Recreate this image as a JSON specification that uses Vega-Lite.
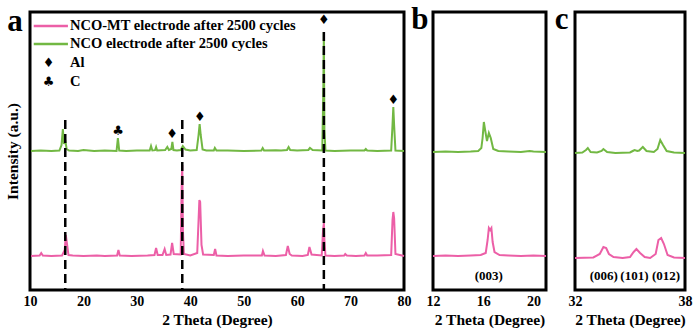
{
  "$schema": "https://vega.github.io/schema/vega-lite/v6.json",
  "background": "white",
  "padding": {"left": 3, "top": 2, "right": 14, "bottom": 4},
  "bounds": "flush",
  "spacing": 29,
  "config": {
    "font": "Liberation Serif",
    "view": {"stroke": "black", "strokeWidth": 3},
    "axis": {"labelFont": "Liberation Serif", "titleFont": "Liberation Serif", "labelFontWeight": "bold", "titleFontWeight": "bold", "labelFontSize": 14, "titleFontSize": 15.5, "labelColor": "black", "titleColor": "black", "grid": false, "ticks": false, "domain": false, "labelFlush": false, "labelPadding": 4, "titlePadding": 4},
    "text": {"font": "Liberation Serif", "fontWeight": "bold", "color": "black"}
  },
  "datasets": {
    "blank": [{}],
    "full": [
      {"s": "NCO", "x": 10.2, "y": 139}, {"s": "NCO", "x": 12, "y": 139.5}, {"s": "NCO", "x": 14, "y": 139}, {"s": "NCO", "x": 15.5, "y": 139.5}, {"s": "NCO", "x": 15.9, "y": 145}, {"s": "NCO", "x": 16.15, "y": 161}, {"s": "NCO", "x": 16.35, "y": 146}, {"s": "NCO", "x": 16.6, "y": 150}, {"s": "NCO", "x": 16.85, "y": 141}, {"s": "NCO", "x": 17.3, "y": 139.5}, {"s": "NCO", "x": 19, "y": 139}, {"s": "NCO", "x": 20, "y": 140}, {"s": "NCO", "x": 22, "y": 139}, {"s": "NCO", "x": 24, "y": 139.5}, {"s": "NCO", "x": 26.2, "y": 139}, {"s": "NCO", "x": 26.45, "y": 152}, {"s": "NCO", "x": 26.7, "y": 139.5}, {"s": "NCO", "x": 28, "y": 139}, {"s": "NCO", "x": 30, "y": 139.5}, {"s": "NCO", "x": 32.4, "y": 139.5}, {"s": "NCO", "x": 32.65, "y": 144}, {"s": "NCO", "x": 32.9, "y": 139.5}, {"s": "NCO", "x": 33.4, "y": 139.8}, {"s": "NCO", "x": 33.6, "y": 143}, {"s": "NCO", "x": 33.8, "y": 139.5}, {"s": "NCO", "x": 35.3, "y": 140}, {"s": "NCO", "x": 35.7, "y": 143}, {"s": "NCO", "x": 36.0, "y": 140}, {"s": "NCO", "x": 36.45, "y": 141}, {"s": "NCO", "x": 36.65, "y": 148}, {"s": "NCO", "x": 36.85, "y": 140}, {"s": "NCO", "x": 37.5, "y": 139.5}, {"s": "NCO", "x": 38.2, "y": 140}, {"s": "NCO", "x": 38.6, "y": 144}, {"s": "NCO", "x": 39.1, "y": 140.5}, {"s": "NCO", "x": 40, "y": 139.5}, {"s": "NCO", "x": 41.2, "y": 140}, {"s": "NCO", "x": 41.55, "y": 155}, {"s": "NCO", "x": 41.75, "y": 166}, {"s": "NCO", "x": 41.95, "y": 155}, {"s": "NCO", "x": 42.3, "y": 140.5}, {"s": "NCO", "x": 43, "y": 139.5}, {"s": "NCO", "x": 44.4, "y": 139.5}, {"s": "NCO", "x": 44.6, "y": 142}, {"s": "NCO", "x": 44.9, "y": 139.5}, {"s": "NCO", "x": 47, "y": 139.5}, {"s": "NCO", "x": 50, "y": 139}, {"s": "NCO", "x": 53.3, "y": 139.5}, {"s": "NCO", "x": 53.55, "y": 142}, {"s": "NCO", "x": 53.8, "y": 139.5}, {"s": "NCO", "x": 56, "y": 139.8}, {"s": "NCO", "x": 57, "y": 139.5}, {"s": "NCO", "x": 58.1, "y": 140}, {"s": "NCO", "x": 58.4, "y": 143}, {"s": "NCO", "x": 58.7, "y": 140}, {"s": "NCO", "x": 60, "y": 139.5}, {"s": "NCO", "x": 62.1, "y": 140}, {"s": "NCO", "x": 62.4, "y": 142}, {"s": "NCO", "x": 62.9, "y": 140}, {"s": "NCO", "x": 64.7, "y": 139.5}, {"s": "NCO", "x": 64.9, "y": 200}, {"s": "NCO", "x": 65.0, "y": 258}, {"s": "NCO", "x": 65.1, "y": 160}, {"s": "NCO", "x": 65.3, "y": 139.5}, {"s": "NCO", "x": 67, "y": 139}, {"s": "NCO", "x": 70, "y": 139.5}, {"s": "NCO", "x": 72.6, "y": 139.5}, {"s": "NCO", "x": 72.85, "y": 141}, {"s": "NCO", "x": 73.1, "y": 139.5}, {"s": "NCO", "x": 75, "y": 139}, {"s": "NCO", "x": 77.6, "y": 139.5}, {"s": "NCO", "x": 77.85, "y": 165}, {"s": "NCO", "x": 78.0, "y": 183}, {"s": "NCO", "x": 78.15, "y": 165}, {"s": "NCO", "x": 78.4, "y": 139.5}, {"s": "NCO", "x": 80, "y": 139},
      {"s": "MT", "x": 10.2, "y": 34}, {"s": "MT", "x": 11.8, "y": 34.5}, {"s": "MT", "x": 12.1, "y": 37}, {"s": "MT", "x": 12.4, "y": 34.5}, {"s": "MT", "x": 14, "y": 34}, {"s": "MT", "x": 16, "y": 34.5}, {"s": "MT", "x": 16.5, "y": 40}, {"s": "MT", "x": 16.7, "y": 55}, {"s": "MT", "x": 16.9, "y": 47}, {"s": "MT", "x": 17.2, "y": 35}, {"s": "MT", "x": 18, "y": 34.5}, {"s": "MT", "x": 20, "y": 34}, {"s": "MT", "x": 22.5, "y": 34.5}, {"s": "MT", "x": 24, "y": 34}, {"s": "MT", "x": 26.3, "y": 34.5}, {"s": "MT", "x": 26.55, "y": 40}, {"s": "MT", "x": 26.8, "y": 34.5}, {"s": "MT", "x": 29, "y": 34}, {"s": "MT", "x": 32, "y": 34.5}, {"s": "MT", "x": 33.3, "y": 35}, {"s": "MT", "x": 33.6, "y": 42}, {"s": "MT", "x": 33.9, "y": 35}, {"s": "MT", "x": 34.8, "y": 35}, {"s": "MT", "x": 35.2, "y": 41}, {"s": "MT", "x": 35.5, "y": 35}, {"s": "MT", "x": 36.3, "y": 35.5}, {"s": "MT", "x": 36.6, "y": 47}, {"s": "MT", "x": 36.9, "y": 36}, {"s": "MT", "x": 38.2, "y": 35.5}, {"s": "MT", "x": 38.4, "y": 110}, {"s": "MT", "x": 38.5, "y": 125}, {"s": "MT", "x": 38.62, "y": 60}, {"s": "MT", "x": 38.8, "y": 36}, {"s": "MT", "x": 40, "y": 34.5}, {"s": "MT", "x": 41.3, "y": 37}, {"s": "MT", "x": 41.55, "y": 70}, {"s": "MT", "x": 41.7, "y": 90}, {"s": "MT", "x": 41.85, "y": 88}, {"s": "MT", "x": 42.1, "y": 45}, {"s": "MT", "x": 42.4, "y": 35.5}, {"s": "MT", "x": 44.4, "y": 35}, {"s": "MT", "x": 44.65, "y": 41}, {"s": "MT", "x": 44.9, "y": 34.5}, {"s": "MT", "x": 47, "y": 34}, {"s": "MT", "x": 50, "y": 34.5}, {"s": "MT", "x": 53.4, "y": 34.5}, {"s": "MT", "x": 53.6, "y": 39}, {"s": "MT", "x": 53.9, "y": 34.5}, {"s": "MT", "x": 56, "y": 34}, {"s": "MT", "x": 57.9, "y": 35}, {"s": "MT", "x": 58.25, "y": 44}, {"s": "MT", "x": 58.6, "y": 36}, {"s": "MT", "x": 59, "y": 34.5}, {"s": "MT", "x": 61, "y": 34}, {"s": "MT", "x": 62, "y": 35}, {"s": "MT", "x": 62.3, "y": 43}, {"s": "MT", "x": 62.7, "y": 35.5}, {"s": "MT", "x": 64.6, "y": 34.5}, {"s": "MT", "x": 64.85, "y": 60}, {"s": "MT", "x": 65.0, "y": 67}, {"s": "MT", "x": 65.1, "y": 50}, {"s": "MT", "x": 65.3, "y": 34.5}, {"s": "MT", "x": 67, "y": 34}, {"s": "MT", "x": 68.8, "y": 34.5}, {"s": "MT", "x": 69, "y": 36}, {"s": "MT", "x": 69.3, "y": 34.5}, {"s": "MT", "x": 71, "y": 34}, {"s": "MT", "x": 72.6, "y": 34.5}, {"s": "MT", "x": 72.85, "y": 37}, {"s": "MT", "x": 73.1, "y": 34.5}, {"s": "MT", "x": 75, "y": 34.5}, {"s": "MT", "x": 77.6, "y": 35}, {"s": "MT", "x": 77.85, "y": 70}, {"s": "MT", "x": 78.0, "y": 78}, {"s": "MT", "x": 78.15, "y": 72}, {"s": "MT", "x": 78.4, "y": 36}, {"s": "MT", "x": 80, "y": 34}
    ],
    "zoomb": [
      {"s": "NCO", "x": 12, "y": 138}, {"s": "NCO", "x": 13, "y": 138.5}, {"s": "NCO", "x": 14, "y": 138}, {"s": "NCO", "x": 15, "y": 138.5}, {"s": "NCO", "x": 15.6, "y": 139}, {"s": "NCO", "x": 15.85, "y": 142}, {"s": "NCO", "x": 15.95, "y": 152}, {"s": "NCO", "x": 16.05, "y": 168}, {"s": "NCO", "x": 16.15, "y": 160}, {"s": "NCO", "x": 16.3, "y": 149}, {"s": "NCO", "x": 16.45, "y": 157}, {"s": "NCO", "x": 16.6, "y": 152}, {"s": "NCO", "x": 16.8, "y": 141}, {"s": "NCO", "x": 17.2, "y": 139}, {"s": "NCO", "x": 18, "y": 138.5}, {"s": "NCO", "x": 19, "y": 138}, {"s": "NCO", "x": 19.7, "y": 139}, {"s": "NCO", "x": 20, "y": 138.5}, {"s": "NCO", "x": 21, "y": 138},
      {"s": "MT", "x": 12, "y": 34}, {"s": "MT", "x": 13, "y": 34.5}, {"s": "MT", "x": 14, "y": 34}, {"s": "MT", "x": 15, "y": 34.5}, {"s": "MT", "x": 15.8, "y": 35}, {"s": "MT", "x": 16.2, "y": 37}, {"s": "MT", "x": 16.35, "y": 50}, {"s": "MT", "x": 16.45, "y": 62}, {"s": "MT", "x": 16.55, "y": 60}, {"s": "MT", "x": 16.65, "y": 62}, {"s": "MT", "x": 16.75, "y": 48}, {"s": "MT", "x": 16.9, "y": 38}, {"s": "MT", "x": 17.3, "y": 35}, {"s": "MT", "x": 18, "y": 34.5}, {"s": "MT", "x": 19, "y": 34}, {"s": "MT", "x": 20, "y": 34.5}, {"s": "MT", "x": 21, "y": 34}
    ],
    "zoomc": [
      {"s": "NCO", "x": 32, "y": 137}, {"s": "NCO", "x": 32.4, "y": 137.5}, {"s": "NCO", "x": 32.6, "y": 140}, {"s": "NCO", "x": 32.7, "y": 142}, {"s": "NCO", "x": 32.85, "y": 138}, {"s": "NCO", "x": 33.2, "y": 137.5}, {"s": "NCO", "x": 33.45, "y": 139}, {"s": "NCO", "x": 33.55, "y": 141}, {"s": "NCO", "x": 33.75, "y": 138}, {"s": "NCO", "x": 34.2, "y": 137}, {"s": "NCO", "x": 35, "y": 137.5}, {"s": "NCO", "x": 35.15, "y": 139}, {"s": "NCO", "x": 35.25, "y": 140}, {"s": "NCO", "x": 35.4, "y": 139}, {"s": "NCO", "x": 35.5, "y": 139.5}, {"s": "NCO", "x": 35.7, "y": 143}, {"s": "NCO", "x": 35.9, "y": 139}, {"s": "NCO", "x": 36.3, "y": 138}, {"s": "NCO", "x": 36.5, "y": 141}, {"s": "NCO", "x": 36.65, "y": 150}, {"s": "NCO", "x": 36.8, "y": 145}, {"s": "NCO", "x": 37.0, "y": 139}, {"s": "NCO", "x": 37.4, "y": 137.5}, {"s": "NCO", "x": 38, "y": 137},
      {"s": "MT", "x": 32, "y": 32}, {"s": "MT", "x": 33, "y": 32.5}, {"s": "MT", "x": 33.35, "y": 36}, {"s": "MT", "x": 33.55, "y": 43}, {"s": "MT", "x": 33.7, "y": 42}, {"s": "MT", "x": 33.85, "y": 36}, {"s": "MT", "x": 34.1, "y": 33}, {"s": "MT", "x": 34.6, "y": 32}, {"s": "MT", "x": 35.0, "y": 33}, {"s": "MT", "x": 35.2, "y": 38}, {"s": "MT", "x": 35.35, "y": 41}, {"s": "MT", "x": 35.55, "y": 37}, {"s": "MT", "x": 35.8, "y": 33}, {"s": "MT", "x": 36.1, "y": 32}, {"s": "MT", "x": 36.4, "y": 36}, {"s": "MT", "x": 36.55, "y": 50}, {"s": "MT", "x": 36.7, "y": 52}, {"s": "MT", "x": 36.85, "y": 46}, {"s": "MT", "x": 37.05, "y": 35}, {"s": "MT", "x": 37.4, "y": 32.5}, {"s": "MT", "x": 38, "y": 32}
    ]
  },
  "hconcat": [
    {
      "width": 374, "height": 278,
      "data": {"name": "blank"},
      "layer": [
        {
          "data": {"name": "full"},
          "mark": {"type": "line", "strokeWidth": 2},
          "encoding": {
            "x": {"field": "x", "type": "quantitative", "scale": {"domain": [10, 80], "nice": false, "zero": false}, "axis": {"values": [10, 20, 30, 40, 50, 60, 70, 80], "title": "2 Theta (Degree)"}},
            "y": {"field": "y", "type": "quantitative", "scale": {"domain": [0, 278], "nice": false}, "axis": {"labels": false, "title": "Intensity (a.u.)", "titlePadding": 10}},
            "color": {"field": "s", "type": "nominal", "scale": {"domain": ["MT", "NCO"], "range": ["#EC5FA7", "#72B843"]}, "legend": null}
          }
        },
        {
          "data": {"values": [{"x": 16.6, "top": 170}, {"x": 38.5, "top": 170}, {"x": 65, "top": 258}]},
          "mark": {"type": "rule", "color": "black", "strokeWidth": 2.5, "strokeDash": [9, 5]},
          "encoding": {"x": {"field": "x", "type": "quantitative"}, "y": {"field": "top", "type": "quantitative"}, "y2": {"datum": 0}}
        },
        {
          "data": {"values": [{"x": 65, "y": 270, "m": "♦"}, {"x": 78, "y": 190, "m": "♦"}, {"x": 41.8, "y": 173, "m": "♦"}, {"x": 36.6, "y": 156, "m": "♦"}, {"x": 26.5, "y": 159, "m": "♣"}]},
          "mark": {"type": "text", "font": "DejaVu Sans", "fontSize": 13, "baseline": "middle"},
          "encoding": {"x": {"field": "x", "type": "quantitative"}, "y": {"field": "y", "type": "quantitative"}, "text": {"field": "m", "type": "nominal"}}
        },
        {"mark": {"type": "rule", "color": "#EC5FA7", "strokeWidth": 2.5}, "encoding": {"x": {"datum": 10.7, "type": "quantitative"}, "x2": {"datum": 17.1}, "y": {"datum": 264, "type": "quantitative"}}},
        {"mark": {"type": "rule", "color": "#72B843", "strokeWidth": 2.5}, "encoding": {"x": {"datum": 10.7, "type": "quantitative"}, "x2": {"datum": 17.1}, "y": {"datum": 246, "type": "quantitative"}}},
        {"mark": {"type": "text", "fontSize": 14.5, "align": "left", "baseline": "middle"}, "encoding": {"x": {"datum": 17.5, "type": "quantitative"}, "y": {"datum": 264, "type": "quantitative"}, "text": {"value": "NCO-MT electrode after 2500 cycles"}}},
        {"mark": {"type": "text", "fontSize": 14.5, "align": "left", "baseline": "middle"}, "encoding": {"x": {"datum": 17.5, "type": "quantitative"}, "y": {"datum": 246, "type": "quantitative"}, "text": {"value": "NCO electrode after 2500 cycles"}}},
        {"mark": {"type": "text", "fontSize": 14.5, "align": "left", "baseline": "middle"}, "encoding": {"x": {"datum": 17.5, "type": "quantitative"}, "y": {"datum": 227, "type": "quantitative"}, "text": {"value": "Al"}}},
        {"mark": {"type": "text", "fontSize": 14.5, "align": "left", "baseline": "middle"}, "encoding": {"x": {"datum": 17.5, "type": "quantitative"}, "y": {"datum": 208, "type": "quantitative"}, "text": {"value": "C"}}},
        {"mark": {"type": "text", "font": "DejaVu Sans", "fontSize": 13, "baseline": "middle"}, "encoding": {"x": {"datum": 13.5, "type": "quantitative"}, "y": {"datum": 227, "type": "quantitative"}, "text": {"value": "♦"}}},
        {"mark": {"type": "text", "font": "DejaVu Sans", "fontSize": 13, "baseline": "middle"}, "encoding": {"x": {"datum": 13.5, "type": "quantitative"}, "y": {"datum": 208, "type": "quantitative"}, "text": {"value": "♣"}}},
        {"mark": {"type": "text", "fontSize": 31, "baseline": "middle"}, "encoding": {"x": {"datum": 7.2, "type": "quantitative"}, "y": {"datum": 268, "type": "quantitative"}, "text": {"value": "a"}}}
      ]
    },
    {
      "width": 113, "height": 278,
      "data": {"name": "blank"},
      "layer": [
        {
          "data": {"name": "zoomb"},
          "mark": {"type": "line", "strokeWidth": 2},
          "encoding": {
            "x": {"field": "x", "type": "quantitative", "scale": {"domain": [12, 21], "nice": false, "zero": false}, "axis": {"values": [12, 16, 20], "title": "2 Theta (Degree)"}},
            "y": {"field": "y", "type": "quantitative", "scale": {"domain": [0, 278], "nice": false}, "axis": null},
            "color": {"field": "s", "type": "nominal", "scale": {"domain": ["MT", "NCO"], "range": ["#EC5FA7", "#72B843"]}, "legend": null}
          }
        },
        {"mark": {"type": "text", "fontSize": 13, "baseline": "middle"}, "encoding": {"x": {"datum": 16.45, "type": "quantitative"}, "y": {"datum": 14, "type": "quantitative"}, "text": {"value": "(003)"}}},
        {"mark": {"type": "text", "fontSize": 31, "baseline": "middle"}, "encoding": {"x": {"datum": 10.95, "type": "quantitative"}, "y": {"datum": 270, "type": "quantitative"}, "text": {"value": "b"}}}
      ]
    },
    {
      "width": 110, "height": 278,
      "data": {"name": "blank"},
      "layer": [
        {
          "data": {"name": "zoomc"},
          "mark": {"type": "line", "strokeWidth": 2},
          "encoding": {
            "x": {"field": "x", "type": "quantitative", "scale": {"domain": [32, 38], "nice": false, "zero": false}, "axis": {"values": [32, 34, 36, 38], "title": "2 Theta (Degree)"}},
            "y": {"field": "y", "type": "quantitative", "scale": {"domain": [0, 278], "nice": false}, "axis": null},
            "color": {"field": "s", "type": "nominal", "scale": {"domain": ["MT", "NCO"], "range": ["#EC5FA7", "#72B843"]}, "legend": null}
          }
        },
        {"mark": {"type": "text", "fontSize": 13, "baseline": "middle"}, "encoding": {"x": {"datum": 33.57, "type": "quantitative"}, "y": {"datum": 14, "type": "quantitative"}, "text": {"value": "(006)"}}},
        {"mark": {"type": "text", "fontSize": 13, "baseline": "middle"}, "encoding": {"x": {"datum": 35.24, "type": "quantitative"}, "y": {"datum": 14, "type": "quantitative"}, "text": {"value": "(101)"}}},
        {"mark": {"type": "text", "fontSize": 13, "baseline": "middle"}, "encoding": {"x": {"datum": 36.97, "type": "quantitative"}, "y": {"datum": 14, "type": "quantitative"}, "text": {"value": "(012)"}}},
        {"mark": {"type": "text", "fontSize": 31, "baseline": "middle"}, "encoding": {"x": {"datum": 31.27, "type": "quantitative"}, "y": {"datum": 270, "type": "quantitative"}, "text": {"value": "c"}}}
      ]
    }
  ]
}
